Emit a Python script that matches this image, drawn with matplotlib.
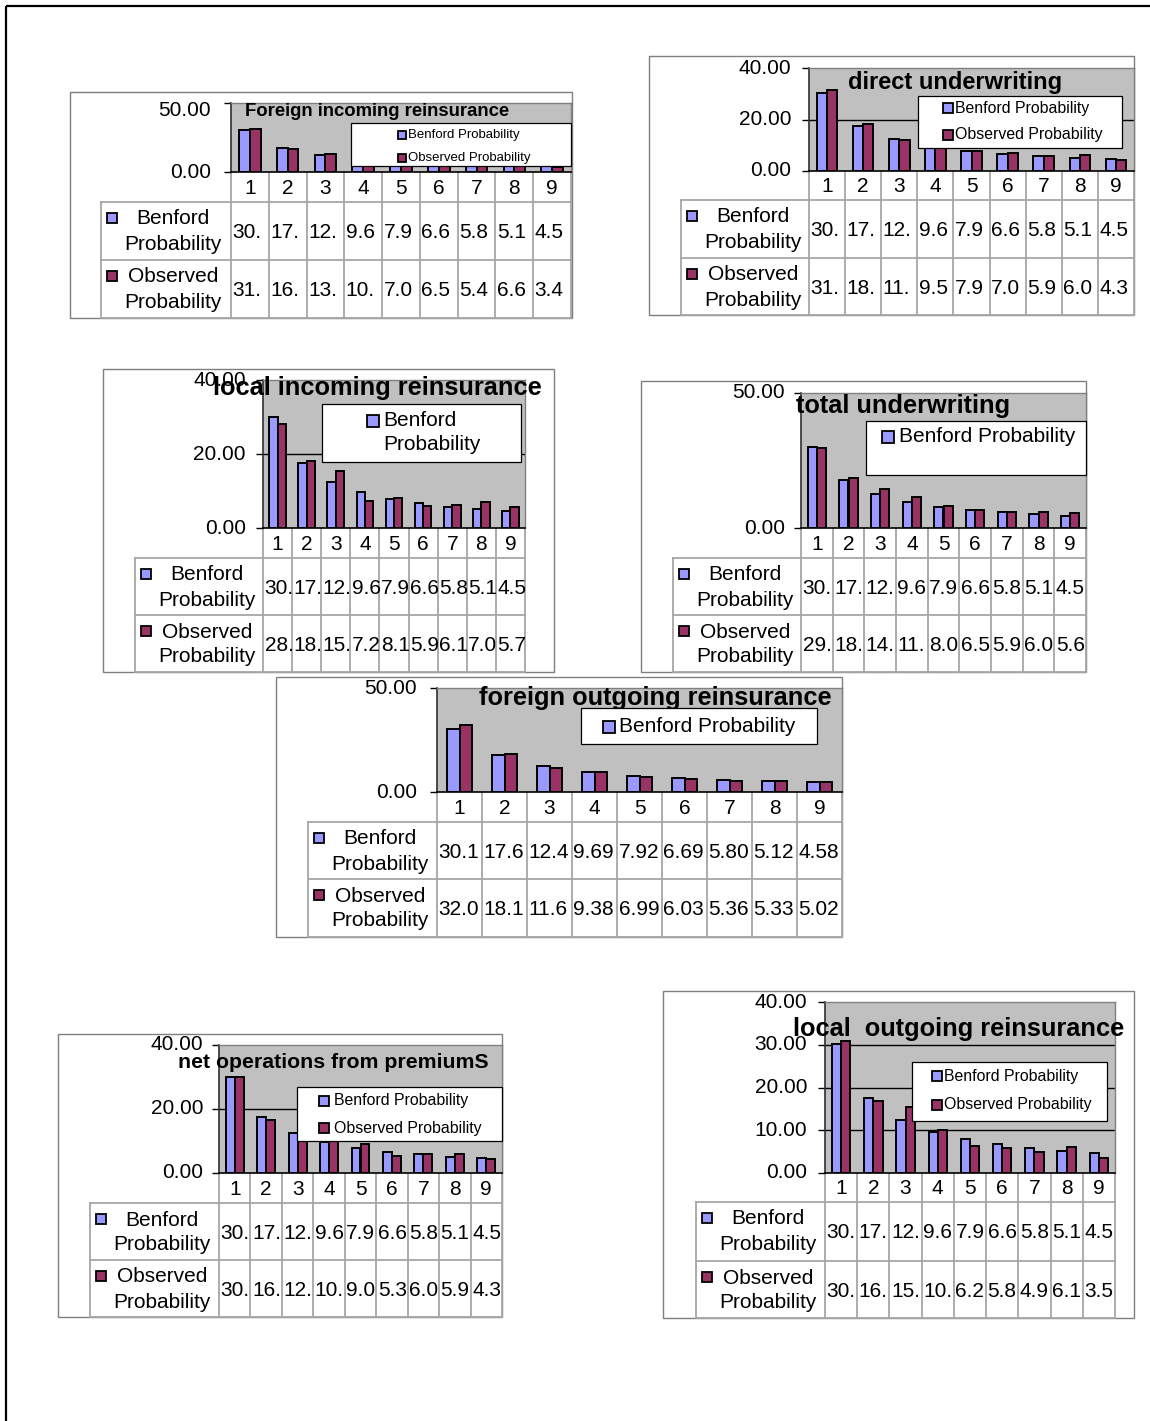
import numpy as np
import matplotlib.pyplot as plt
from matplotlib.patches import Rectangle
import matplotlib.transforms as mtransforms

plt.rcParams['font.family'] = ['Liberation Sans', 'DejaVu Sans']

W, H = 1150, 1421
BLUE = '#9999FF'
MAROON = '#993366'
PLOT_GRAY = '#C0C0C0'
LINE_GRAY = '#A6A6A6'

digits = [1, 2, 3, 4, 5, 6, 7, 8, 9]
benford = [30.10, 17.61, 12.49, 9.69, 7.92, 6.69, 5.80, 5.12, 4.58]

titles = [
    'Foreign incoming reinsurance',
    'direct underwriting',
    'local incoming reinsurance',
    'total underwriting',
    'foreign outgoing reinsurance',
    'net operations from premiumS',
    'local  outgoing reinsurance',
]

obs_foreign_in = [31.05, 16.35, 13.25, 10.15, 7.04, 6.52, 5.41, 6.63, 3.44]
obs_direct = [31.32, 18.38, 11.85, 9.54, 7.93, 7.02, 5.94, 6.05, 4.36]
obs_local_in = [28.02, 18.04, 15.48, 7.25, 8.14, 5.93, 6.12, 7.05, 5.73]
obs_total = [29.63, 18.52, 14.45, 11.38, 8.06, 6.55, 5.96, 6.05, 5.64]
obs_foreign_out = [32.05, 18.14, 11.62, 9.38, 6.99, 6.03, 5.36, 5.33, 5.02]
obs_net = [30.04, 16.45, 12.31, 10.12, 9.06, 5.37, 6.05, 5.94, 4.35]
obs_local_out = [30.92, 16.85, 15.45, 10.05, 6.28, 5.84, 4.96, 6.14, 3.52]
observed = [obs_foreign_in, obs_direct, obs_local_in, obs_total,
            obs_foreign_out, obs_net, obs_local_out]

y_max = [50, 40, 40, 50, 50, 40, 40]
y_ticks = [[0, 50], [0, 20, 40], [0, 20, 40], [0, 50], [0, 50],
           [0, 20, 40], [0, 10, 20, 30, 40]]

# layout of every chart block, in pixels
layout = [
    dict(box=(70, 92, 572, 318), plot=(231, 103, 571, 172), cat=202, sep=260, tab=101,
         gap=20, top_dy=-8, chars=3,
         title=(245, 112, 13.3),
         leg=(351, 123, 571, 166), leg_fs=9.5, leg_ms=8, leg_mx=402, leg_tx=408,
         leg_y=[135, 158], leg_mode='two'),
    dict(box=(649, 56, 1134, 315), plot=(809, 68, 1134, 171), cat=200, sep=258, tab=681,
         gap=18, top_dy=0, chars=3,
         title=(848, 82, 17),
         leg=(918, 96, 1122, 148), leg_fs=11.4, leg_ms=10, leg_mx=948, leg_tx=955,
         leg_y=[108, 135], leg_mode='two'),
    dict(box=(103, 369, 554, 672), plot=(263, 380, 525, 528), cat=558, sep=615, tab=135,
         gap=17, top_dy=0, chars=3,
         title=(213, 388, 18.3),
         leg=(322, 404, 521, 462), leg_fs=15, leg_ms=12, leg_mx=373, leg_tx=383,
         leg_y=[421, 445], leg_mode='wrap'),
    dict(box=(641, 381, 1086, 672), plot=(801, 393, 1086, 528), cat=558, sep=615, tab=673,
         gap=16, top_dy=0, chars=3,
         title=(796, 406, 18.3),
         leg=(866, 421, 1086, 475), leg_fs=15, leg_ms=12, leg_mx=888, leg_tx=899,
         leg_y=[437], leg_mode='one'),
    dict(box=(276, 677, 842, 937), plot=(437, 688, 842, 792), cat=822, sep=879, tab=308,
         gap=20, top_dy=0, chars=4,
         title=(479, 698, 18.3),
         leg=(581, 708, 817, 744), leg_fs=15, leg_ms=12, leg_mx=609, leg_tx=619,
         leg_y=[727], leg_mode='one'),
    dict(box=(58, 1034, 502, 1317), plot=(219, 1045, 502, 1173), cat=1203, sep=1260, tab=90,
         gap=16, top_dy=0, chars=3,
         title=(178, 1062, 15.3),
         leg=(297, 1087, 502, 1141), leg_fs=11.4, leg_ms=10, leg_mx=324, leg_tx=334,
         leg_y=[1101, 1128], leg_mode='two'),
    dict(box=(663, 991, 1134, 1318), plot=(825, 1002, 1115, 1173), cat=1202, sep=1261, tab=696,
         gap=18, top_dy=0, chars=3,
         title=(793, 1029, 18.3),
         leg=(912, 1062, 1107, 1121), leg_fs=11.4, leg_ms=10, leg_mx=937, leg_tx=944,
         leg_y=[1076, 1105], leg_mode='two'),
]

fig = plt.figure(figsize=(W / 100, H / 100), dpi=100)

page = fig.add_axes([0, 0, 1, 1], zorder=0)
page.set_xlim(0, W)
page.set_ylim(H, 0)
page.axis('off')

top = fig.add_axes([0, 0, 1, 1], zorder=5)
top.set_xlim(0, W)
top.set_ylim(H, 0)
top.axis('off')
top.patch.set_alpha(0)

# page frame
page.plot([6, 6], [6, H], color='black', lw=1.6, solid_capstyle='butt')
page.plot([6, W], [6, 6], color='black', lw=1.6, solid_capstyle='butt')


def key(ax, x, y, s, color, z=3):
    ax.add_patch(Rectangle((x - s / 2, y - s / 2), s, s, facecolor=color,
                           edgecolor='black', lw=1.3, zorder=z))


FS = 15
x = np.array(digits)
bw = 0.286

for k in range(7):
    L = layout[k]
    bx0, by0, bx1, by1 = L['box']
    px0, py0, px1, py1 = L['plot']

    # chart area frame
    page.add_patch(Rectangle((bx0, by0), bx1 - bx0, by1 - by0, facecolor='white',
                             edgecolor='#7F7F7F', lw=1.0, zorder=1))

    ax = fig.add_axes([px0 / W, 1 - py1 / H, (px1 - px0) / W, (py1 - py0) / H], zorder=2)
    ax.set_facecolor(PLOT_GRAY)
    ax.bar(x - bw / 2, benford, bw, color=BLUE, edgecolor='black', lw=1.4, zorder=3)
    ax.bar(x + bw / 2, observed[k], bw, color=MAROON, edgecolor='black', lw=1.4, zorder=3)
    ax.set_xlim(0.5, 9.5)
    ax.set_ylim(0, y_max[k])
    ax.set_xticks([])
    ax.set_yticks(y_ticks[k])
    ax.tick_params(axis='y', length=5, width=1, direction='out', labelleft=False,
                   color='black')
    for t in y_ticks[k][1:-1]:
        ax.axhline(t, color='black', lw=1, zorder=1)
    for s in ['top', 'right']:
        ax.spines[s].set_color('#808080')
        ax.spines[s].set_linewidth(1)
    ax.spines['left'].set_color('#303030')
    ax.spines['bottom'].set_color('black')
    for s in ['left', 'bottom']:
        ax.spines[s].set_linewidth(1.2)

    # value axis labels
    for t in y_ticks[k]:
        dy = L['top_dy'] if t == y_ticks[k][-1] else 0
        tr = mtransforms.offset_copy(ax.get_yaxis_transform(), fig=fig,
                                     x=-L['gap'], y=dy, units='dots')
        top.text(0, t, f'{t:.2f}', transform=tr, ha='right', va='center',
                 fontsize=FS, zorder=1)

    # data table
    tab = L['tab']
    cw = (px1 - px0) / 9
    cat, sep = L['cat'], L['sep']
    for i in range(10):
        page.plot([px0 + i * cw] * 2, [py1, by1], color=LINE_GRAY, lw=1.3, zorder=2)
    page.plot([tab, tab], [cat, by1], color=LINE_GRAY, lw=1.3, zorder=2)
    for yy in [cat, sep, by1]:
        page.plot([tab, px1], [yy, yy], color=LINE_GRAY, lw=1.3, zorder=2)
    for i, d in enumerate(digits):
        page.text(px0 + (i + 0.5) * cw, (py1 + cat) / 2 + 1.5, str(d), ha='center',
                  va='center', fontsize=FS, zorder=3)
    rows = [(cat, benford, 'Benford', BLUE), (sep, observed[k], 'Observed', MAROON)]
    for r0, vals, name, col in rows:
        key(page, tab + 11, r0 + 16, 10, col)
        page.text(tab + 72, r0 + 17, name, ha='center', va='center', fontsize=FS, zorder=3)
        page.text(tab + 72, r0 + 42, 'Probability', ha='center', va='center',
                  fontsize=FS, zorder=3)
        for i, v in enumerate(vals):
            page.text(px0 + i * cw + 1.5, r0 + 30.5, f'{v:.2f}'[:L['chars']], ha='left',
                      va='center', fontsize=FS, zorder=3)

    # chart title
    tx, ty, tfs = L['title']
    top.text(tx, ty, titles[k], ha='left', va='center', fontsize=tfs,
             fontweight='bold', zorder=2)

    # legend
    lx0, ly0, lx1, ly1 = L['leg']
    top.add_patch(Rectangle((lx0, ly0), lx1 - lx0, ly1 - ly0, facecolor='white',
                            edgecolor='black', lw=0.9, zorder=3))
    ms, mx, ltx, lfs = L['leg_ms'], L['leg_mx'], L['leg_tx'], L['leg_fs']
    if L['leg_mode'] == 'two':
        entries = [(L['leg_y'][0], 'Benford Probability', BLUE),
                   (L['leg_y'][1], 'Observed Probability', MAROON)]
        for yy, lab, col in entries:
            key(top, mx, yy, ms, col, z=4)
            top.text(ltx, yy, lab, ha='left', va='center', fontsize=lfs, zorder=4)
    elif L['leg_mode'] == 'one':
        yy = L['leg_y'][0]
        key(top, mx, yy, ms, BLUE, z=4)
        top.text(ltx, yy, 'Benford Probability', ha='left', va='center',
                 fontsize=lfs, zorder=4)
    else:
        y1, y2 = L['leg_y']
        key(top, mx, y1, ms, BLUE, z=4)
        top.text(ltx, y1, 'Benford', ha='left', va='center', fontsize=lfs, zorder=4)
        top.text(ltx, y2, 'Probability', ha='left', va='center', fontsize=lfs, zorder=4)

fig.savefig('out.png', dpi=100)
